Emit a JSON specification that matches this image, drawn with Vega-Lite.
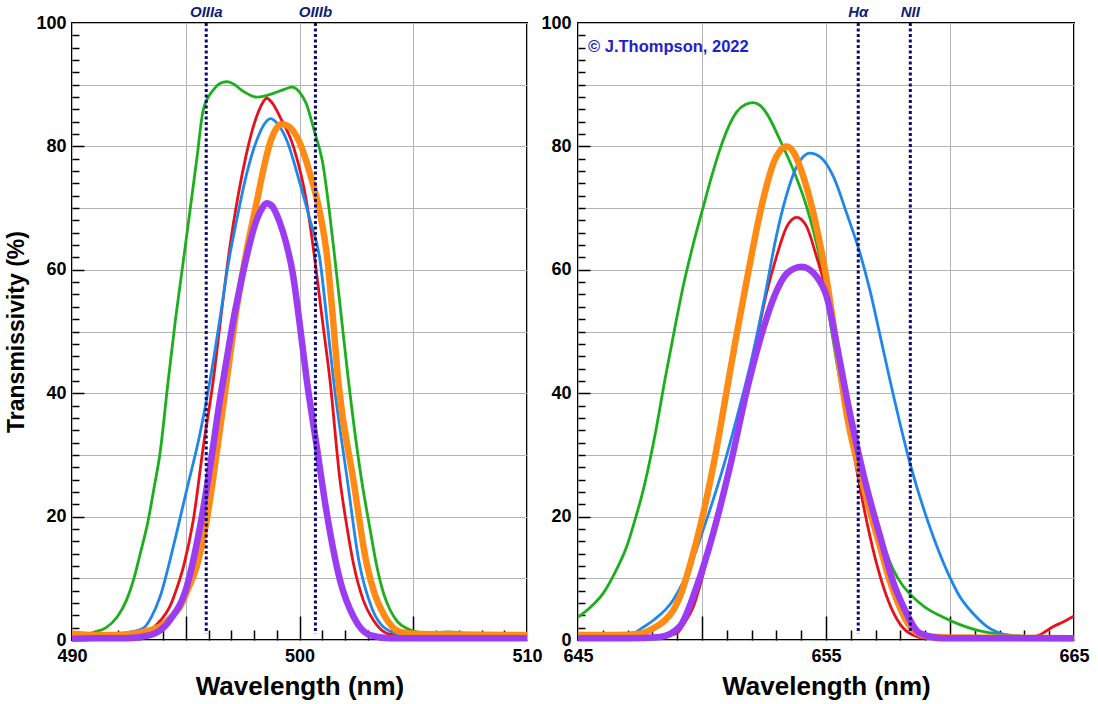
{
  "$schema": "https://vega.github.io/schema/vega-lite/v6.json",
  "padding": {"left": 4, "top": 4, "right": 4, "bottom": 2},
  "background": "white",
  "config": {
    "font": "Liberation Sans",
    "view": {"stroke": "black", "strokeWidth": 2}
  },
  "datasets": {
    "left": [
      {"series":"Filter 1","nm":490.0,"pct":0.5},{"series":"Filter 1","nm":490.5,"pct":0.8},{"series":"Filter 1","nm":491.0,"pct":1.3},{"series":"Filter 1","nm":491.5,"pct":2.0},{"series":"Filter 1","nm":492.0,"pct":3.8},{"series":"Filter 1","nm":492.4,"pct":6.5},{"series":"Filter 1","nm":492.7,"pct":9.7},{"series":"Filter 1","nm":493.0,"pct":14},{"series":"Filter 1","nm":493.35,"pct":19.4},{"series":"Filter 1","nm":493.6,"pct":24.5},{"series":"Filter 1","nm":493.87,"pct":30.3},{"series":"Filter 1","nm":494.23,"pct":42.1},{"series":"Filter 1","nm":494.55,"pct":52},{"series":"Filter 1","nm":494.9,"pct":61.6},{"series":"Filter 1","nm":495.19,"pct":69.7},{"series":"Filter 1","nm":495.48,"pct":77.8},{"series":"Filter 1","nm":495.77,"pct":85.9},{"series":"Filter 1","nm":496.2,"pct":89.1},{"series":"Filter 1","nm":496.5,"pct":90.2},{"series":"Filter 1","nm":496.8,"pct":90.5},{"series":"Filter 1","nm":497.1,"pct":90.1},{"series":"Filter 1","nm":497.5,"pct":89.0},{"series":"Filter 1","nm":498.1,"pct":88.0},{"series":"Filter 1","nm":498.5,"pct":88.2},{"series":"Filter 1","nm":498.85,"pct":88.6},{"series":"Filter 1","nm":499.3,"pct":89.2},{"series":"Filter 1","nm":499.66,"pct":89.6},{"series":"Filter 1","nm":500.0,"pct":88.8},{"series":"Filter 1","nm":500.3,"pct":86.9},{"series":"Filter 1","nm":500.65,"pct":82.5},{"series":"Filter 1","nm":501.0,"pct":77.7},{"series":"Filter 1","nm":501.5,"pct":63.6},{"series":"Filter 1","nm":501.85,"pct":52},{"series":"Filter 1","nm":502.15,"pct":42.1},{"series":"Filter 1","nm":502.73,"pct":25.9},{"series":"Filter 1","nm":503.1,"pct":18},{"series":"Filter 1","nm":503.4,"pct":11.9},{"series":"Filter 1","nm":503.7,"pct":7.5},{"series":"Filter 1","nm":503.98,"pct":4.9},{"series":"Filter 1","nm":504.3,"pct":3.0},{"series":"Filter 1","nm":504.7,"pct":1.9},{"series":"Filter 1","nm":505.6,"pct":1.1},{"series":"Filter 1","nm":506.5,"pct":1.3},{"series":"Filter 1","nm":507.5,"pct":1.0},{"series":"Filter 1","nm":508.5,"pct":0.9},{"series":"Filter 1","nm":510.0,"pct":0.8},
      {"series":"Filter 2","nm":490.0,"pct":0.5},{"series":"Filter 2","nm":491.0,"pct":0.6},{"series":"Filter 2","nm":492.0,"pct":0.7},{"series":"Filter 2","nm":493.0,"pct":1.0},{"series":"Filter 2","nm":493.43,"pct":1.6},{"series":"Filter 2","nm":493.9,"pct":3.2},{"series":"Filter 2","nm":494.3,"pct":5.4},{"series":"Filter 2","nm":494.6,"pct":8.3},{"series":"Filter 2","nm":494.9,"pct":11.9},{"series":"Filter 2","nm":495.33,"pct":19.4},{"series":"Filter 2","nm":495.77,"pct":31.3},{"series":"Filter 2","nm":496.21,"pct":42.1},{"series":"Filter 2","nm":496.6,"pct":54},{"series":"Filter 2","nm":496.95,"pct":64},{"series":"Filter 2","nm":497.3,"pct":72},{"series":"Filter 2","nm":497.65,"pct":78.5},{"series":"Filter 2","nm":497.97,"pct":83.2},{"series":"Filter 2","nm":498.3,"pct":86.5},{"series":"Filter 2","nm":498.56,"pct":87.8},{"series":"Filter 2","nm":498.85,"pct":86.8},{"series":"Filter 2","nm":499.14,"pct":84.8},{"series":"Filter 2","nm":499.73,"pct":80},{"series":"Filter 2","nm":500.32,"pct":70.8},{"series":"Filter 2","nm":500.6,"pct":63.7},{"series":"Filter 2","nm":501.0,"pct":52},{"series":"Filter 2","nm":501.34,"pct":42.1},{"series":"Filter 2","nm":501.78,"pct":25.9},{"series":"Filter 2","nm":502.1,"pct":18},{"series":"Filter 2","nm":502.37,"pct":12.4},{"series":"Filter 2","nm":502.8,"pct":6.5},{"series":"Filter 2","nm":503.25,"pct":3.2},{"series":"Filter 2","nm":503.83,"pct":1.1},{"series":"Filter 2","nm":504.5,"pct":0.6},{"series":"Filter 2","nm":506.0,"pct":0.5},{"series":"Filter 2","nm":510.0,"pct":0.5},
      {"series":"Filter 3","nm":490.0,"pct":0.5},{"series":"Filter 3","nm":491.0,"pct":0.7},{"series":"Filter 3","nm":492.0,"pct":1.0},{"series":"Filter 3","nm":492.6,"pct":1.3},{"series":"Filter 3","nm":493.13,"pct":1.9},{"series":"Filter 3","nm":493.5,"pct":3.8},{"series":"Filter 3","nm":493.87,"pct":7.0},{"series":"Filter 3","nm":494.45,"pct":15.1},{"series":"Filter 3","nm":495.04,"pct":24.3},{"series":"Filter 3","nm":495.63,"pct":33.5},{"series":"Filter 3","nm":496.07,"pct":42.1},{"series":"Filter 3","nm":496.5,"pct":52},{"series":"Filter 3","nm":496.87,"pct":61},{"series":"Filter 3","nm":497.24,"pct":68.1},{"series":"Filter 3","nm":497.68,"pct":75.6},{"series":"Filter 3","nm":498.12,"pct":81.0},{"series":"Filter 3","nm":498.45,"pct":83.6},{"series":"Filter 3","nm":498.73,"pct":84.5},{"series":"Filter 3","nm":499.05,"pct":83.6},{"series":"Filter 3","nm":499.44,"pct":81.0},{"series":"Filter 3","nm":500.02,"pct":74},{"series":"Filter 3","nm":500.46,"pct":68.1},{"series":"Filter 3","nm":500.9,"pct":61.6},{"series":"Filter 3","nm":501.2,"pct":52},{"series":"Filter 3","nm":501.5,"pct":42},{"series":"Filter 3","nm":502.1,"pct":26},{"series":"Filter 3","nm":502.6,"pct":13},{"series":"Filter 3","nm":503.2,"pct":5},{"series":"Filter 3","nm":503.8,"pct":1.8},{"series":"Filter 3","nm":504.5,"pct":0.9},{"series":"Filter 3","nm":506.0,"pct":0.6},{"series":"Filter 3","nm":510.0,"pct":0.6},
      {"series":"Filter 4","nm":490.0,"pct":1.0},{"series":"Filter 4","nm":491.0,"pct":0.8},{"series":"Filter 4","nm":492.0,"pct":0.8},{"series":"Filter 4","nm":492.84,"pct":1.1},{"series":"Filter 4","nm":493.87,"pct":2.2},{"series":"Filter 4","nm":494.3,"pct":3.5},{"series":"Filter 4","nm":494.75,"pct":5.4},{"series":"Filter 4","nm":495.1,"pct":8.3},{"series":"Filter 4","nm":495.48,"pct":11.9},{"series":"Filter 4","nm":495.92,"pct":19.4},{"series":"Filter 4","nm":496.36,"pct":30.3},{"series":"Filter 4","nm":496.8,"pct":42.1},{"series":"Filter 4","nm":497.25,"pct":54},{"series":"Filter 4","nm":497.68,"pct":63.2},{"series":"Filter 4","nm":498.12,"pct":71},{"series":"Filter 4","nm":498.41,"pct":76.2},{"series":"Filter 4","nm":498.7,"pct":80.5},{"series":"Filter 4","nm":499.0,"pct":83},{"series":"Filter 4","nm":499.22,"pct":83.6},{"series":"Filter 4","nm":499.5,"pct":83.3},{"series":"Filter 4","nm":500.02,"pct":80.5},{"series":"Filter 4","nm":500.46,"pct":75.6},{"series":"Filter 4","nm":500.9,"pct":69.2},{"series":"Filter 4","nm":501.2,"pct":62.5},{"series":"Filter 4","nm":501.45,"pct":53},{"series":"Filter 4","nm":501.7,"pct":42.1},{"series":"Filter 4","nm":502.37,"pct":25.9},{"series":"Filter 4","nm":502.95,"pct":12.4},{"series":"Filter 4","nm":503.3,"pct":7.5},{"series":"Filter 4","nm":503.68,"pct":4.3},{"series":"Filter 4","nm":504.42,"pct":1.3},{"series":"Filter 4","nm":505.0,"pct":1.0},{"series":"Filter 4","nm":507.0,"pct":0.9},{"series":"Filter 4","nm":510.0,"pct":0.8},
      {"series":"Filter 5","nm":490.0,"pct":0.2},{"series":"Filter 5","nm":491.0,"pct":0.3},{"series":"Filter 5","nm":492.4,"pct":0.3},{"series":"Filter 5","nm":493.43,"pct":0.8},{"series":"Filter 5","nm":494.3,"pct":3.2},{"series":"Filter 5","nm":495.04,"pct":8.6},{"series":"Filter 5","nm":495.63,"pct":18.4},{"series":"Filter 5","nm":496.07,"pct":28.1},{"series":"Filter 5","nm":496.5,"pct":38.9},{"series":"Filter 5","nm":496.8,"pct":45.5},{"series":"Filter 5","nm":497.1,"pct":52},{"series":"Filter 5","nm":497.4,"pct":57.5},{"series":"Filter 5","nm":497.7,"pct":62.5},{"series":"Filter 5","nm":498.0,"pct":66.8},{"series":"Filter 5","nm":498.3,"pct":69.6},{"series":"Filter 5","nm":498.56,"pct":70.8},{"series":"Filter 5","nm":498.8,"pct":70.3},{"series":"Filter 5","nm":499.1,"pct":68},{"series":"Filter 5","nm":499.4,"pct":64.5},{"series":"Filter 5","nm":499.7,"pct":59.5},{"series":"Filter 5","nm":500.0,"pct":51.5},{"series":"Filter 5","nm":500.32,"pct":42.1},{"series":"Filter 5","nm":500.76,"pct":31.3},{"series":"Filter 5","nm":501.2,"pct":20.5},{"series":"Filter 5","nm":501.78,"pct":9.7},{"series":"Filter 5","nm":502.37,"pct":3.8},{"series":"Filter 5","nm":503.1,"pct":0.8},{"series":"Filter 5","nm":504.0,"pct":0.3},{"series":"Filter 5","nm":510.0,"pct":0.3}
    ],
    "right": [
      {"series":"Filter 1","nm":645.0,"pct":3.7},{"series":"Filter 1","nm":645.5,"pct":5.3},{"series":"Filter 1","nm":646.02,"pct":7.6},{"series":"Filter 1","nm":646.5,"pct":11},{"series":"Filter 1","nm":646.96,"pct":15.1},{"series":"Filter 1","nm":647.3,"pct":19.5},{"series":"Filter 1","nm":647.63,"pct":24.3},{"series":"Filter 1","nm":648.17,"pct":34.6},{"series":"Filter 1","nm":648.5,"pct":42.1},{"series":"Filter 1","nm":648.9,"pct":50.5},{"series":"Filter 1","nm":649.25,"pct":57.5},{"series":"Filter 1","nm":649.65,"pct":64.2},{"series":"Filter 1","nm":650.05,"pct":70.2},{"series":"Filter 1","nm":650.4,"pct":75.3},{"series":"Filter 1","nm":650.73,"pct":79.6},{"series":"Filter 1","nm":651.05,"pct":83},{"series":"Filter 1","nm":651.4,"pct":85.6},{"series":"Filter 1","nm":651.75,"pct":86.8},{"series":"Filter 1","nm":652.07,"pct":87.1},{"series":"Filter 1","nm":652.35,"pct":86.6},{"series":"Filter 1","nm":652.6,"pct":85.4},{"series":"Filter 1","nm":653.15,"pct":81},{"series":"Filter 1","nm":653.68,"pct":76.2},{"series":"Filter 1","nm":654.22,"pct":70.2},{"series":"Filter 1","nm":654.76,"pct":61.6},{"series":"Filter 1","nm":655.15,"pct":52},{"series":"Filter 1","nm":655.56,"pct":42.1},{"series":"Filter 1","nm":656.0,"pct":35},{"series":"Filter 1","nm":656.3,"pct":30.5},{"series":"Filter 1","nm":656.75,"pct":23.5},{"series":"Filter 1","nm":657.2,"pct":17},{"series":"Filter 1","nm":657.7,"pct":11.5},{"series":"Filter 1","nm":658.1,"pct":8.8},{"series":"Filter 1","nm":658.4,"pct":7.4},{"series":"Filter 1","nm":659.0,"pct":5.3},{"series":"Filter 1","nm":659.73,"pct":3.7},{"series":"Filter 1","nm":660.4,"pct":2.5},{"series":"Filter 1","nm":661.08,"pct":1.6},{"series":"Filter 1","nm":662.4,"pct":0.8},{"series":"Filter 1","nm":663.5,"pct":0.5},{"series":"Filter 1","nm":665.0,"pct":0.4},
      {"series":"Filter 2","nm":645.0,"pct":0.3},{"series":"Filter 2","nm":647.0,"pct":0.2},{"series":"Filter 2","nm":648.3,"pct":0.5},{"series":"Filter 2","nm":648.98,"pct":1.1},{"series":"Filter 2","nm":649.3,"pct":2.8},{"series":"Filter 2","nm":649.65,"pct":5.4},{"series":"Filter 2","nm":650.0,"pct":10},{"series":"Filter 2","nm":650.32,"pct":15.1},{"series":"Filter 2","nm":651.0,"pct":25.9},{"series":"Filter 2","nm":651.67,"pct":37.8},{"series":"Filter 2","nm":652.1,"pct":46.5},{"series":"Filter 2","nm":652.6,"pct":56.2},{"series":"Filter 2","nm":653.0,"pct":62.1},{"series":"Filter 2","nm":653.42,"pct":67},{"series":"Filter 2","nm":653.82,"pct":68.5},{"series":"Filter 2","nm":654.22,"pct":67},{"series":"Filter 2","nm":654.62,"pct":62.1},{"series":"Filter 2","nm":655.03,"pct":56.2},{"series":"Filter 2","nm":655.5,"pct":45},{"series":"Filter 2","nm":656.0,"pct":33},{"series":"Filter 2","nm":656.5,"pct":22},{"series":"Filter 2","nm":657.0,"pct":13},{"series":"Filter 2","nm":657.5,"pct":6.5},{"series":"Filter 2","nm":658.0,"pct":2.5},{"series":"Filter 2","nm":658.5,"pct":0.8},{"series":"Filter 2","nm":659.0,"pct":0.3},{"series":"Filter 2","nm":663.0,"pct":0.2},{"series":"Filter 2","nm":663.6,"pct":0.8},{"series":"Filter 2","nm":664.17,"pct":2.2},{"series":"Filter 2","nm":664.6,"pct":3.0},{"series":"Filter 2","nm":665.0,"pct":3.9},
      {"series":"Filter 3","nm":645.0,"pct":0.5},{"series":"Filter 3","nm":646.0,"pct":0.6},{"series":"Filter 3","nm":646.7,"pct":0.8},{"series":"Filter 3","nm":647.23,"pct":1.1},{"series":"Filter 3","nm":647.6,"pct":2.0},{"series":"Filter 3","nm":648.04,"pct":3.2},{"series":"Filter 3","nm":648.84,"pct":6.5},{"series":"Filter 3","nm":649.25,"pct":9.5},{"series":"Filter 3","nm":649.65,"pct":13.2},{"series":"Filter 3","nm":650.0,"pct":17.3},{"series":"Filter 3","nm":650.45,"pct":22.7},{"series":"Filter 3","nm":651.0,"pct":30},{"series":"Filter 3","nm":651.5,"pct":37.5},{"series":"Filter 3","nm":652.0,"pct":45.5},{"series":"Filter 3","nm":652.5,"pct":55},{"series":"Filter 3","nm":653.0,"pct":65.5},{"series":"Filter 3","nm":653.4,"pct":72},{"series":"Filter 3","nm":653.8,"pct":76.6},{"series":"Filter 3","nm":654.05,"pct":78.2},{"series":"Filter 3","nm":654.35,"pct":78.9},{"series":"Filter 3","nm":654.76,"pct":78.3},{"series":"Filter 3","nm":655.3,"pct":75.1},{"series":"Filter 3","nm":655.83,"pct":69.2},{"series":"Filter 3","nm":656.37,"pct":62.7},{"series":"Filter 3","nm":656.77,"pct":56.7},{"series":"Filter 3","nm":657.2,"pct":49},{"series":"Filter 3","nm":657.58,"pct":42.1},{"series":"Filter 3","nm":658.39,"pct":28.6},{"series":"Filter 3","nm":659.33,"pct":16.7},{"series":"Filter 3","nm":659.9,"pct":11},{"series":"Filter 3","nm":660.4,"pct":7},{"series":"Filter 3","nm":661.0,"pct":4},{"series":"Filter 3","nm":661.48,"pct":2.2},{"series":"Filter 3","nm":662.3,"pct":0.8},{"series":"Filter 3","nm":663.0,"pct":0.5},{"series":"Filter 3","nm":665.0,"pct":0.4},
      {"series":"Filter 4","nm":645.0,"pct":0.8},{"series":"Filter 4","nm":646.5,"pct":0.8},{"series":"Filter 4","nm":647.5,"pct":1.0},{"series":"Filter 4","nm":648.04,"pct":1.9},{"series":"Filter 4","nm":648.45,"pct":3.0},{"series":"Filter 4","nm":648.84,"pct":4.8},{"series":"Filter 4","nm":649.2,"pct":8},{"series":"Filter 4","nm":649.5,"pct":11.9},{"series":"Filter 4","nm":650.05,"pct":20.5},{"series":"Filter 4","nm":650.6,"pct":31.3},{"series":"Filter 4","nm":651.0,"pct":40.5},{"series":"Filter 4","nm":651.35,"pct":48.5},{"series":"Filter 4","nm":651.73,"pct":56.7},{"series":"Filter 4","nm":652.05,"pct":63.5},{"series":"Filter 4","nm":652.34,"pct":69.2},{"series":"Filter 4","nm":652.65,"pct":74.3},{"series":"Filter 4","nm":652.88,"pct":77.3},{"series":"Filter 4","nm":653.15,"pct":79.3},{"series":"Filter 4","nm":653.41,"pct":80.0},{"series":"Filter 4","nm":653.7,"pct":79.0},{"series":"Filter 4","nm":653.95,"pct":76.7},{"series":"Filter 4","nm":654.49,"pct":69.2},{"series":"Filter 4","nm":655.03,"pct":58.3},{"series":"Filter 4","nm":655.45,"pct":47},{"series":"Filter 4","nm":655.83,"pct":36.7},{"series":"Filter 4","nm":656.37,"pct":27},{"series":"Filter 4","nm":656.8,"pct":20.5},{"series":"Filter 4","nm":657.18,"pct":15.1},{"series":"Filter 4","nm":657.5,"pct":10.5},{"series":"Filter 4","nm":657.85,"pct":6.5},{"series":"Filter 4","nm":658.39,"pct":2.2},{"series":"Filter 4","nm":659.06,"pct":0.6},{"series":"Filter 4","nm":660.0,"pct":0.4},{"series":"Filter 4","nm":665.0,"pct":0.3},
      {"series":"Filter 5","nm":645.0,"pct":0.3},{"series":"Filter 5","nm":647.0,"pct":0.3},{"series":"Filter 5","nm":648.3,"pct":0.5},{"series":"Filter 5","nm":649.1,"pct":2.2},{"series":"Filter 5","nm":649.78,"pct":8.6},{"series":"Filter 5","nm":650.45,"pct":17.3},{"series":"Filter 5","nm":651.13,"pct":28.1},{"series":"Filter 5","nm":651.87,"pct":41.5},{"series":"Filter 5","nm":652.4,"pct":49.5},{"series":"Filter 5","nm":653.0,"pct":56.5},{"series":"Filter 5","nm":653.42,"pct":59.4},{"series":"Filter 5","nm":654.02,"pct":60.5},{"series":"Filter 5","nm":654.62,"pct":58.9},{"series":"Filter 5","nm":655.03,"pct":55.6},{"series":"Filter 5","nm":655.45,"pct":47.5},{"series":"Filter 5","nm":655.83,"pct":39.4},{"series":"Filter 5","nm":656.5,"pct":27},{"series":"Filter 5","nm":657.3,"pct":15.1},{"series":"Filter 5","nm":657.7,"pct":9.5},{"series":"Filter 5","nm":658.12,"pct":5.4},{"series":"Filter 5","nm":658.79,"pct":1.1},{"series":"Filter 5","nm":659.7,"pct":0.3},{"series":"Filter 5","nm":665.0,"pct":0.3}
    ],
    "leftLines": [{"label":"OIIIa","nm":495.9},{"label":"OIIIb","nm":500.7}],
    "rightLines": [{"label":"Hα","nm":656.3},{"label":"NII","nm":658.4}],
    "note": [{"text":"© J.Thompson, 2022"}]
  },
  "spacing": 51,
  "bounds": "flush",
  "hconcat": [
    {
      "width": 455,
      "height": 617,
      "resolve": {"axis": {"x": "independent", "y": "independent"}},
      "layer": [
        {
          "data": {"name": "left"},
          "mark": {"type": "line", "interpolate": "monotone", "strokeJoin": "round"},
          "encoding": {
            "x": {"field": "nm", "type": "quantitative", "scale": {"domain": [490, 510], "nice": false, "zero": false},
              "axis": {"orient": "bottom", "values": [490, 495, 500, 505, 510], "labelExpr": "datum.value % 10 === 0 ? datum.label : ''", "grid": true, "gridColor": "#b4b4b4", "gridWidth": 1, "ticks": false, "domain": false, "labelFontSize": 18, "labelFontWeight": "bold", "labelColor": "black", "labelPadding": 7, "labelFlush": false, "labelOverlap": false, "title": "Wavelength (nm)", "titleFontSize": 26, "titleFontWeight": "bold", "titleColor": "black", "titlePadding": 8}},
            "y": {"field": "pct", "type": "quantitative", "scale": {"domain": [0, 100], "nice": false},
              "axis": {"orient": "left", "values": [0, 10, 20, 30, 40, 50, 60, 70, 80, 90, 100], "labelExpr": "datum.value % 20 === 0 ? datum.label : ''", "grid": true, "gridColor": "#b4b4b4", "gridWidth": 1, "ticks": false, "domain": false, "labelFontSize": 18, "labelFontWeight": "bold", "labelColor": "black", "labelPadding": 6, "labelOverlap": false, "title": "Transmissivity (%)", "titleFontSize": 23, "titleFontWeight": "bold", "titleColor": "black", "titlePadding": 7}},
            "color": {"field": "series", "type": "nominal", "scale": {"domain": ["Filter 1", "Filter 2", "Filter 3", "Filter 4", "Filter 5"], "range": ["#1caf1c", "#e8101a", "#1f86ea", "#ff8a14", "#9b3cf2"]}, "legend": null},
            "strokeWidth": {"field": "series", "type": "nominal", "scale": {"type": "ordinal", "domain": ["Filter 1", "Filter 2", "Filter 3", "Filter 4", "Filter 5"], "range": [2.8, 2.8, 2.8, 6.5, 6.5]}, "legend": null}
          }
        },
        {
          "data": {"name": "leftLines"},
          "mark": {"type": "rule", "color": "#0a0a72", "strokeWidth": 3, "strokeDash": [3, 2.5]},
          "encoding": {
            "x": {"field": "nm", "type": "quantitative", "axis": {"orient": "bottom", "values": [491, 492, 493, 494, 496, 497, 498, 499, 501, 502, 503, 504, 506, 507, 508, 509], "labels": false, "grid": false, "domain": false, "ticks": true, "tickSize": -10, "tickColor": "black", "tickWidth": 1.5, "title": null}},
            "y": {"datum": 100, "type": "quantitative", "axis": {"orient": "left", "values": [2, 4, 6, 8, 10, 12, 14, 16, 18, 22, 24, 26, 28, 30, 32, 34, 36, 38, 42, 44, 46, 48, 50, 52, 54, 56, 58, 62, 64, 66, 68, 70, 72, 74, 76, 78, 82, 84, 86, 88, 90, 92, 94, 96, 98], "labels": false, "grid": false, "domain": false, "ticks": true, "tickSize": -7, "tickColor": "black", "tickWidth": 1.5, "title": null}},
            "y2": {"datum": 1}
          }
        },
        {
          "data": {"name": "leftLines"},
          "mark": {"type": "text", "fontStyle": "italic", "fontWeight": "bold", "fontSize": 15, "color": "#101c78", "dy": -11, "baseline": "middle", "align": "center"},
          "encoding": {
            "x": {"field": "nm", "type": "quantitative", "axis": {"orient": "bottom", "values": [495, 500, 505], "labels": false, "grid": false, "domain": false, "ticks": true, "tickSize": -24, "tickColor": "black", "tickWidth": 1.5, "title": null}},
            "y": {"datum": 100, "type": "quantitative", "axis": {"orient": "left", "values": [20, 40, 60, 80], "labels": false, "grid": false, "domain": false, "ticks": true, "tickSize": -12, "tickColor": "black", "tickWidth": 1.5, "title": null}},
            "text": {"field": "label"}
          }
        }
      ]
    },
    {
      "width": 496,
      "height": 617,
      "resolve": {"axis": {"x": "independent", "y": "independent"}},
      "layer": [
        {
          "data": {"name": "right"},
          "mark": {"type": "line", "interpolate": "monotone", "strokeJoin": "round"},
          "encoding": {
            "x": {"field": "nm", "type": "quantitative", "scale": {"domain": [645, 665], "nice": false, "zero": false},
              "axis": {"orient": "bottom", "values": [645, 650, 655, 660, 665], "labelExpr": "(datum.value - 645) % 10 === 0 ? datum.label : ''", "grid": true, "gridColor": "#b4b4b4", "gridWidth": 1, "ticks": false, "domain": false, "labelFontSize": 18, "labelFontWeight": "bold", "labelColor": "black", "labelPadding": 7, "labelFlush": false, "labelOverlap": false, "title": "Wavelength (nm)", "titleFontSize": 26, "titleFontWeight": "bold", "titleColor": "black", "titlePadding": 8}},
            "y": {"field": "pct", "type": "quantitative", "scale": {"domain": [0, 100], "nice": false},
              "axis": {"orient": "left", "values": [0, 10, 20, 30, 40, 50, 60, 70, 80, 90, 100], "labelExpr": "datum.value % 20 === 0 ? datum.label : ''", "grid": true, "gridColor": "#b4b4b4", "gridWidth": 1, "ticks": false, "domain": false, "labelFontSize": 18, "labelFontWeight": "bold", "labelColor": "black", "labelPadding": 7, "labelOverlap": false, "title": null}},
            "color": {"field": "series", "type": "nominal", "scale": {"domain": ["Filter 1", "Filter 2", "Filter 3", "Filter 4", "Filter 5"], "range": ["#1caf1c", "#e8101a", "#1f86ea", "#ff8a14", "#9b3cf2"]}, "legend": null},
            "strokeWidth": {"field": "series", "type": "nominal", "scale": {"type": "ordinal", "domain": ["Filter 1", "Filter 2", "Filter 3", "Filter 4", "Filter 5"], "range": [2.8, 2.8, 2.8, 6.5, 6.5]}, "legend": null}
          }
        },
        {
          "data": {"name": "rightLines"},
          "mark": {"type": "rule", "color": "#0a0a72", "strokeWidth": 3, "strokeDash": [3, 2.5]},
          "encoding": {
            "x": {"field": "nm", "type": "quantitative", "axis": {"orient": "bottom", "values": [646, 647, 648, 649, 651, 652, 653, 654, 656, 657, 658, 659, 661, 662, 663, 664], "labels": false, "grid": false, "domain": false, "ticks": true, "tickSize": -10, "tickColor": "black", "tickWidth": 1.5, "title": null}},
            "y": {"datum": 100, "type": "quantitative", "axis": {"orient": "left", "values": [2, 4, 6, 8, 10, 12, 14, 16, 18, 22, 24, 26, 28, 30, 32, 34, 36, 38, 42, 44, 46, 48, 50, 52, 54, 56, 58, 62, 64, 66, 68, 70, 72, 74, 76, 78, 82, 84, 86, 88, 90, 92, 94, 96, 98], "labels": false, "grid": false, "domain": false, "ticks": true, "tickSize": -7, "tickColor": "black", "tickWidth": 1.5, "title": null}},
            "y2": {"datum": 1}
          }
        },
        {
          "data": {"name": "rightLines"},
          "mark": {"type": "text", "fontStyle": "italic", "fontWeight": "bold", "fontSize": 15, "color": "#101c78", "dy": -11, "baseline": "middle", "align": "center"},
          "encoding": {
            "x": {"field": "nm", "type": "quantitative", "axis": {"orient": "bottom", "values": [650, 655, 660], "labels": false, "grid": false, "domain": false, "ticks": true, "tickSize": -24, "tickColor": "black", "tickWidth": 1.5, "title": null}},
            "y": {"datum": 100, "type": "quantitative", "axis": {"orient": "left", "values": [20, 40, 60, 80], "labels": false, "grid": false, "domain": false, "ticks": true, "tickSize": -12, "tickColor": "black", "tickWidth": 1.5, "title": null}},
            "text": {"field": "label"}
          }
        },
        {
          "data": {"name": "note"},
          "mark": {"type": "text", "fontWeight": "bold", "fontSize": 16.5, "color": "#2020cc", "dx": 10, "dy": 24, "baseline": "middle", "align": "left"},
          "encoding": {
            "x": {"datum": 645, "type": "quantitative", "axis": null},
            "y": {"datum": 100, "type": "quantitative", "axis": null},
            "text": {"field": "text"}
          }
        }
      ]
    }
  ]
}
